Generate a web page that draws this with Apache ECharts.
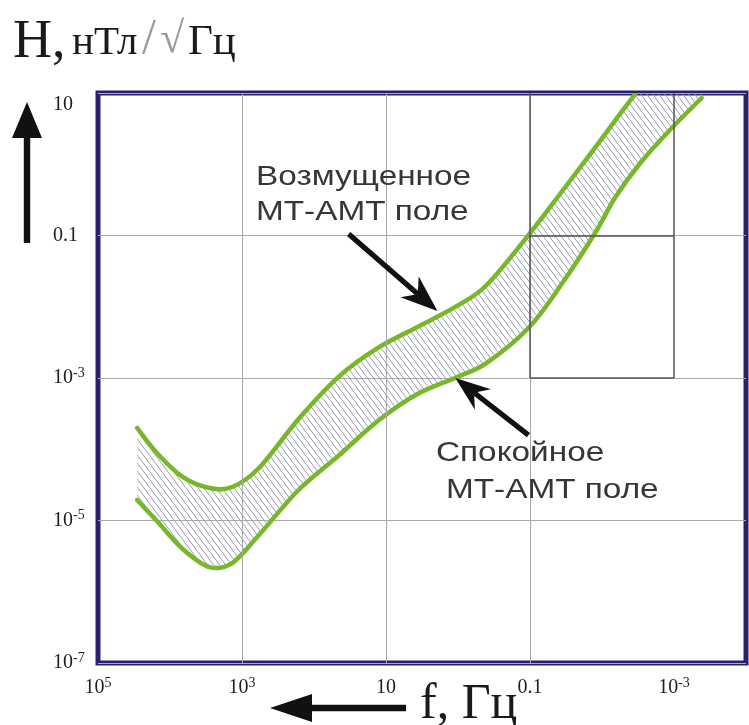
<!DOCTYPE html>
<html>
<head>
<meta charset="utf-8">
<script src="https://cdn.jsdelivr.net/npm/echarts@6/dist/echarts.min.js"></script>
<style>
  html, body { margin: 0; padding: 0; background: #fff; }
  #chart { width: 749px; height: 725px; }
</style>
</head>
<body>
<div id="chart"></div>
<script>
// Frequency samples, Hz (shared by both field curves)
const freqHz = [28600, 15200, 6670, 2840, 1370, 582, 164, 46.1, 13.0, 3.66,
                1.03, 0.399, 0.102, 0.0348, 0.01225, 0.0065, 0.00294, 0.00114, 0.000413];

// Disturbed MT-AMT field, nT/sqrt(Hz)
const hDisturbed = [1.99e-4, 8.85e-5, 4.08e-5, 2.86e-5, 2.95e-5, 5.46e-5, 2.66e-4, 1.03e-3, 2.64e-3, 5.2e-3,
                    1.03e-2, 2.02e-2, 0.105, 0.435, 1.75, 4.18, 12.1, 45.7, 183];

// Quiet MT-AMT field, nT/sqrt(Hz)
const hQuiet = [1.94e-5, 9.84e-6, 3.98e-6, 2.22e-6, 2.53e-6, 6.25e-6, 2.68e-5, 8.04e-5, 2.49e-4, 5.96e-4,
                1.03e-3, 1.63e-3, 5.2e-3, 2.22e-2, 0.112, 0.347, 1.04, 3.03, 8.51];

// Vertical grid lines (Hz) and the emphasised box
const gridFreqs = [1e3, 10, 0.1, 1e-3];
const boxFreqs = [0.1, 1e-3];
const boxLevels = [0.1, 1e-3];

// Annotation pointers: [frequency, field] of the tail and tip
const disturbedPointer = { tail: [33, 0.105], tip: [1.93, 8.7e-3] };
const quietPointer = { tail: [0.105, 1.58e-4], tip: [1.09, 1.0e-3] };

const serif = '"Liberation Serif", "Times New Roman", serif';
const sans = '"Liberation Sans", Arial, sans-serif';
const green = '#76b82a';
const navy = '#28216f';

function hatchTile() {
  const w = 6, h = 8;
  const c = document.createElement('canvas');
  c.width = w; c.height = h;
  const g = c.getContext('2d');
  g.strokeStyle = '#989eb6';
  g.lineWidth = 1;
  for (const k of [-w, 0, w]) {
    g.beginPath(); g.moveTo(k, 0); g.lineTo(k + w, h); g.stroke();
  }
  return c;
}
const hatch = { image: hatchTile(), repeat: 'repeat' };

// Catmull-Rom spline through pixel points, as cubic Bezier path commands
const fmt = q => q[0].toFixed(2) + ' ' + q[1].toFixed(2);
function spline(pts, start) {
  let d = start + fmt(pts[0]);
  for (let i = 0; i < pts.length - 1; i++) {
    const p0 = pts[i - 1] || pts[i], p1 = pts[i], p2 = pts[i + 1], p3 = pts[i + 2] || pts[i + 1];
    const c0 = [p1[0] + (p2[0] - p0[0]) / 6, p1[1] + (p2[1] - p0[1]) / 6];
    const c1 = [p2[0] - (p3[0] - p1[0]) / 6, p2[1] - (p3[1] - p1[1]) / 6];
    d += ' C' + fmt(c0) + ' ' + fmt(c1) + ' ' + fmt(p2);
  }
  return d;
}

const labelRich = {
  b: { fontFamily: serif, fontSize: 20, color: '#1e1e1e', lineHeight: 24 },
  s: { fontFamily: serif, fontSize: 14, color: '#1e1e1e', lineHeight: 14, verticalAlign: 'top' }
};

function powLabel(v) {
  const e = Math.round(Math.log10(v));
  if (e === 1) return '{b|10}';
  if (e === -1) return '{b|0.1}';
  return '{b|10}{s|' + e + '}';
}

const pairs = arr => freqHz.map((f, i) => [f, arr[i]]);

const chart = echarts.init(document.getElementById('chart'), null, { renderer: 'canvas' });

const darkStyle = { color: '#555', width: 1.5, type: 'solid' };
const boxLines = [
  [{ coord: [boxFreqs[0], 10] }, { coord: [boxFreqs[0], boxLevels[1]] }],
  [{ coord: [boxFreqs[1], 10] }, { coord: [boxFreqs[1], boxLevels[1]] }],
  [{ coord: [boxFreqs[0], boxLevels[0]] }, { coord: [boxFreqs[1], boxLevels[0]] }],
  [{ coord: [boxFreqs[0], boxLevels[1]] }, { coord: [boxFreqs[1], boxLevels[1]] }]
].map(seg => [Object.assign({ lineStyle: darkStyle }, seg[0]), seg[1]]);

// One custom mark draws the hatched band and both field curves
function renderBand(params, api) {
  const up = freqHz.map((f, i) => api.coord([f, hDisturbed[i]]));
  const lo = freqHz.map((f, i) => api.coord([f, hQuiet[i]]));
  const cs = params.coordSys;
  const curve = pts => ({
    type: 'path',
    shape: { pathData: spline(pts, 'M') },
    style: { fill: null, stroke: green, lineWidth: 4.5, lineCap: 'round', lineJoin: 'round' }
  });
  return {
    type: 'group',
    clipPath: { type: 'rect', shape: { x: cs.x, y: cs.y, width: cs.width, height: cs.height } },
    children: [
      {
        type: 'path',
        shape: { pathData: spline(up, 'M') + ' ' + spline(lo.slice().reverse(), 'L') + ' Z' },
        style: { fill: hatch, stroke: null }
      },
      curve(lo),
      curve(up)
    ]
  };
}

const option = {
  animation: false,
  backgroundColor: '#fff',
  grid: {
    left: 98, top: 93, right: -3, bottom: 62,
    show: true, borderColor: navy, borderWidth: 5, backgroundColor: '#fff'
  },
  xAxis: {
    type: 'log', logBase: 10, inverse: true,
    min: 1e-4, max: 1e5, interval: 1,
    axisLine: { show: false }, axisTick: { show: false }, splitLine: { show: false },
    axisLabel: {
      margin: 13,
      formatter: v => {
        const e = Math.round(Math.log10(v));
        return Math.abs(e) % 2 === 1 ? powLabel(v) : '';
      },
      rich: labelRich
    }
  },
  yAxis: {
    type: 'log', logBase: 10,
    min: 1e-7, max: 10, interval: 2,
    axisLine: { show: false }, axisTick: { show: false },
    splitLine: { show: true, lineStyle: { color: '#ababab', width: 1 } },
    axisLabel: {
      align: 'left', margin: 45,
      verticalAlignMaxLabel: 'top',
      formatter: powLabel,
      rich: labelRich
    }
  },
  series: [
    {
      name: 'grid', type: 'line', data: pairs(hQuiet), symbol: 'none',
      lineStyle: { opacity: 0 }, silent: true, z: 1,
      markLine: {
        silent: true, symbol: ['none', 'none'], label: { show: false },
        emphasis: { disabled: true },
        lineStyle: { color: '#a8a8a8', width: 1, type: 'solid' },
        data: gridFreqs.map(f => ({ xAxis: f })).concat(boxLines)
      }
    },
    {
      name: 'Спокойное / Возмущенное МТ-АМТ поле', type: 'custom', coordinateSystem: 'cartesian2d',
      silent: true, clip: true, z: 3,
      data: [[freqHz[0], hQuiet[0]]],
      renderItem: renderBand
    }
  ]
};

chart.setOption(option);

function arrowPoints(tail, tip, headLen, headHalf, shaftHalf, notch) {
  const dx = tip[0] - tail[0], dy = tip[1] - tail[1];
  const L = Math.hypot(dx, dy);
  const ux = dx / L, uy = dy / L, px = -uy, py = ux;
  const bx = tip[0] - ux * headLen, by = tip[1] - uy * headLen;
  const nx = bx + ux * notch, ny = by + uy * notch;
  return [
    [tail[0] + px * shaftHalf, tail[1] + py * shaftHalf],
    [nx + px * shaftHalf, ny + py * shaftHalf],
    [bx + px * headHalf, by + py * headHalf],
    tip,
    [bx - px * headHalf, by - py * headHalf],
    [nx - px * shaftHalf, ny - py * shaftHalf],
    [tail[0] - px * shaftHalf, tail[1] - py * shaftHalf]
  ];
}

function arrow(tail, tip, headLen, headHalf, shaftHalf, notch) {
  return {
    type: 'polygon', z: 100, silent: true,
    shape: { points: arrowPoints(tail, tip, headLen, headHalf, shaftHalf, notch) },
    style: { fill: '#111', stroke: null }
  };
}

function text(str, x, y, font, fill, extra) {
  return Object.assign({
    type: 'text', z: 100, silent: true, x: x, y: y,
    style: { text: str, font: font, fill: fill, align: 'left', verticalAlign: 'middle' }
  }, extra || {});
}

const toPx = p => chart.convertToPixel({ gridIndex: 0 }, p);
const wide = { scaleX: 1.19 };

const graphics = [
  // field axis title
  text('H,', 13, 43, '54px ' + serif, '#1a1a1a'),
  text('нТл', 72, 43, '41px ' + serif, '#1a1a1a'),
  text('/', 142, 40, '50px ' + serif, '#9a9a9a'),
  text('√', 160, 40, '44px ' + serif, '#9a9a9a'),
  text('Гц', 188, 43, '43px ' + serif, '#1a1a1a'),
  // frequency axis title
  text('f, Гц', 420, 705, '50px ' + serif, '#1a1a1a'),
  // axis direction arrows
  arrow([27, 243], [27, 102], 36, 15, 3.2, 0),
  arrow([406, 708], [270, 708], 42, 14, 3.2, 0),
  // annotations
  text('Возмущенное', 256, 177, '28px ' + sans, '#363636', wide),
  text('МТ-АМТ поле', 256, 212, '28px ' + sans, '#363636', wide),
  text('Спокойное', 436, 453, '28px ' + sans, '#363636', wide),
  text('МТ-АМТ поле', 446, 490, '28px ' + sans, '#363636', wide),
  arrow(toPx(disturbedPointer.tail), toPx(disturbedPointer.tip), 37, 14, 2.6, 9),
  arrow(toPx(quietPointer.tail), toPx(quietPointer.tip), 35, 13, 2.6, 9)
];

chart.setOption({ graphic: graphics });
</script>
</body>
</html>
